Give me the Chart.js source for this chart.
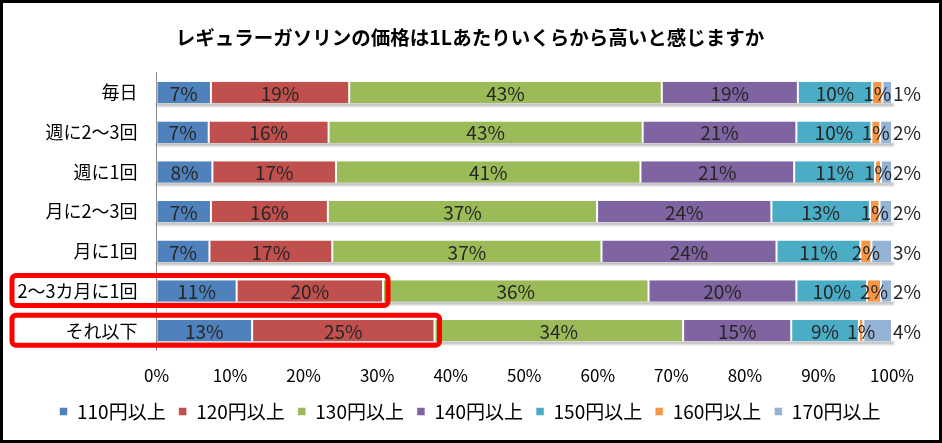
<!DOCTYPE html>
<html lang="ja">
<head>
<meta charset="utf-8">
<title>レギュラーガソリンの価格</title>
<script src="https://cdn.jsdelivr.net/npm/chart.js@4/dist/chart.umd.min.js"></script>
<style>
    body { margin: 0; background: #fff; }
    canvas { display: block; }
</style>
</head>
<body>
<canvas id="gasChart" width="942" height="443"></canvas>
<script>
// Chart data
const chartTitle = 'レギュラーガソリンの価格は1Lあたりいくらから高いと感じますか';
const categories = ['毎日', '週に2～3回', '週に1回', '月に2～3回', '月に1回', '2～3カ月に1回', 'それ以下'];
const seriesNames = ['110円以上', '120円以上', '130円以上', '140円以上', '150円以上', '160円以上', '170円以上'];
const yen110 = [7.4, 7.1, 7.6, 7.4, 7.2, 10.9, 13.0];
const yen120 = [18.8, 16.3, 16.8, 15.9, 16.7, 19.9, 24.8];
const yen130 = [42.5, 42.7, 41.4, 36.6, 36.6, 36.1, 33.8];
const yen140 = [18.5, 20.9, 20.9, 23.7, 23.8, 20.1, 14.7];
const yen150 = [10.1, 10.2, 11.0, 13.4, 11.4, 9.6, 9.2];
const yen160 = [1.4, 1.2, 0.8, 1.3, 1.5, 1.9, 0.6];
const yen170 = [1.3, 1.6, 1.5, 1.7, 2.8, 1.5, 3.9];
const xTicks = [0, 10, 20, 30, 40, 50, 60, 70, 80, 90, 100];
const highlighted = ['2～3カ月に1回', 'それ以下'];

const seriesValues = [yen110, yen120, yen130, yen140, yen150, yen160, yen170];
const colors = ['#4F81BD', '#C0504D', '#9BBB59', '#8064A2', '#4BACC6', '#F79646', '#95B3D7'];

Chart.defaults.font.family = '"Noto Sans CJK JP", "Noto Sans", sans-serif';
Chart.defaults.color = '#000';

// soft gray shadow under every bar row
const shadowPlugin = {
    id: 'rowShadow',
    beforeDatasetsDraw(chart) {
        const ctx = chart.ctx;
        const first = chart.getDatasetMeta(0).data;
        const last = chart.getDatasetMeta(chart.data.datasets.length - 1).data;
        ctx.save();
        ctx.filter = 'blur(1.2px)';
        ctx.fillStyle = 'rgba(0, 0, 0, 0.28)';
        first.forEach((bar, j) => {
            const bottom = bar.y + bar.height / 2;
            ctx.fillRect(bar.base, bottom, last[j].x - bar.base + 2, 3);
        });
        ctx.restore();
    }
};

// percent labels on the segments
const labelPlugin = {
    id: 'barLabels',
    afterDatasetsDraw(chart) {
        const ctx = chart.ctx;
        const lastIndex = chart.data.datasets.length - 1;
        ctx.save();
        ctx.font = '19px "Noto Sans CJK JP"';
        ctx.fillStyle = '#262626';
        ctx.textBaseline = 'middle';
        chart.data.datasets.forEach((ds, i) => {
            chart.getDatasetMeta(i).data.forEach((bar, j) => {
                const text = Math.round(ds.data[j]) + '%';
                if (i === lastIndex) {
                    ctx.textAlign = 'left';
                    ctx.fillText(text, bar.x + 1, bar.y + 1);
                } else {
                    ctx.textAlign = 'center';
                    ctx.fillText(text, (bar.x + bar.base) / 2, bar.y + 1);
                }
            });
        });
        ctx.restore();
    }
};

// red highlight frames and outer border
const framePlugin = {
    id: 'frames',
    afterDraw(chart) {
        const ctx = chart.ctx;
        const redBars = chart.getDatasetMeta(1).data;
        ctx.save();
        ctx.strokeStyle = '#FF0000';
        ctx.lineWidth = 5;
        highlighted.forEach(name => {
            const bar = redBars[categories.indexOf(name)];
            const left = 12;
            const top = bar.y - 15.5;
            ctx.beginPath();
            ctx.roundRect(left, top, bar.x + 5 - left, 30, 4);
            ctx.stroke();
        });
        ctx.strokeStyle = '#000';
        ctx.lineWidth = 3;
        ctx.strokeRect(1.5, 1.5, chart.width - 3, chart.height - 3);
        ctx.restore();
    }
};

const ctx = document.getElementById('gasChart').getContext('2d');
new Chart(ctx, {
    type: 'bar',
    data: {
        labels: categories,
        datasets: seriesNames.map((name, i) => ({
            label: name,
            data: seriesValues[i],
            backgroundColor: colors[i],
            borderColor: '#FFFFFF',
            borderWidth: { left: 1, right: 1, top: 0, bottom: 0 },
            borderSkipped: false,
            barPercentage: 0.54,
            categoryPercentage: 1
        }))
    },
    options: {
        indexAxis: 'y',
        responsive: false,
        animation: false,
        devicePixelRatio: 1,
        layout: { padding: { left: 8, right: 10, top: 0, bottom: 12 } },
        plugins: {
            title: {
                display: true,
                text: chartTitle,
                color: '#000',
                font: { size: 19.5, weight: 'bold' },
                padding: { top: 26.3, bottom: 23 }
            },
            legend: {
                position: 'bottom',
                labels: {
                    boxWidth: 8,
                    boxHeight: 8,
                    padding: 13,
                    color: '#000',
                    font: { size: 19 }
                }
            },
            tooltip: { enabled: false }
        },
        scales: {
            x: {
                stacked: true,
                min: 0,
                max: 100,
                afterBuildTicks: (scale) => {
                    scale.ticks = xTicks.map(v => ({ value: v }));
                },
                ticks: {
                    callback: (v) => v + '%',
                    color: '#000',
                    padding: 15,
                    font: { size: 17 }
                },
                grid: { display: false, drawTicks: false },
                border: { display: false },
                afterFit: (scale) => { scale.height = 38.5; }
            },
            y: {
                stacked: true,
                ticks: {
                    color: '#000',
                    padding: 19,
                    font: { size: 18 }
                },
                grid: { display: false, drawTicks: false },
                border: { display: true, color: '#868686', width: 1 },
                afterFit: (scale) => { scale.width = 148.5; }
            },
            yRight: {
                type: 'category',
                position: 'right',
                labels: categories,
                ticks: { display: false },
                grid: { display: false, drawTicks: false },
                border: { display: false },
                afterFit: (scale) => { scale.width = 40; }
            }
        }
    },
    plugins: [shadowPlugin, labelPlugin, framePlugin]
});
</script>
</body>
</html>
